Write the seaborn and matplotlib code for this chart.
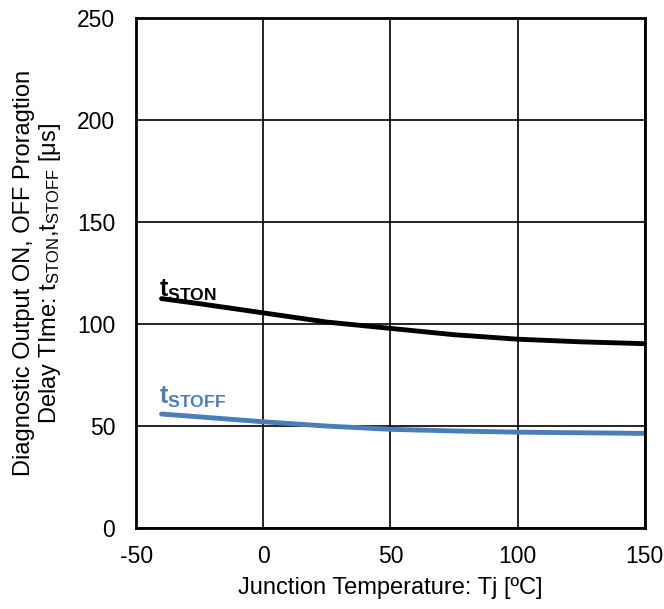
import matplotlib
matplotlib.use("Agg")
import matplotlib.pyplot as plt
import seaborn as sns
import pandas as pd

temps = [-40, -25, 0, 25, 50, 75, 100, 125, 150]
t_ston = [112.5, 110.0, 105.5, 101.0, 97.9, 94.8, 92.6, 91.3, 90.4]
t_stoff = [55.9, 54.5, 52.1, 50.0, 48.4, 47.6, 47.0, 46.7, 46.4]
xticks = [-50, 0, 50, 100, 150]
yticks = [0, 50, 100, 150, 200, 250]

sns.set_theme(style="white")
plt.rcParams['font.family'] = ['Liberation Sans', 'DejaVu Sans']
plt.rcParams['mathtext.fontset'] = 'custom'
plt.rcParams['mathtext.rm'] = 'Liberation Sans'
plt.rcParams['mathtext.bf'] = 'Liberation Sans:bold'
plt.rcParams['mathtext.it'] = 'Liberation Sans:italic'
plt.rcParams['axes.unicode_minus'] = False

df = pd.DataFrame({
    "Tj": temps * 2,
    "t": t_ston + t_stoff,
    "series": ["tSTON"] * len(temps) + ["tSTOFF"] * len(temps),
})

fig = plt.figure(figsize=(6.64, 6.09), dpi=100)
ax = fig.add_axes([0.205, 0.133, 0.766, 0.837])
sns.lineplot(data=df, x="Tj", y="t", hue="series",
             palette={"tSTON": "black", "tSTOFF": "#4a7ebb"},
             linewidth=3.5, legend=False, ax=ax, solid_capstyle="round")
ax.set_xlim(-50, 150)
ax.set_ylim(0, 250)
ax.set_xticks(xticks)
ax.set_yticks(yticks)
ax.grid(True, color="black", linewidth=1.2)
ax.set_axisbelow(True)
for s in ax.spines.values():
    s.set_color("black")
    s.set_linewidth(2)
ax.tick_params(axis="y", labelsize=16.5, colors="black", length=0, pad=15)
ax.tick_params(axis="x", labelsize=16.5, colors="black", length=0, pad=12)
ax.set_xlabel("Junction Temperature: Tj [ºC]", fontsize=17, color="black", labelpad=7)
ax.set_ylabel("Diagnostic Output ON, OFF Proragtion\nDelay TIme: $\\mathrm{t_{STON}}$,$\\mathrm{t_{STOFF}}$ [μs]",
              fontsize=17, color="black", labelpad=10, linespacing=1.1)

ax.text(-41, 113.5, r"$\mathbf{t}_{\mathbf{STON}}$", fontsize=18, color="black", va="baseline", ha="left")
ax.text(-41, 61, r"$\mathbf{t}_{\mathbf{STOFF}}$", fontsize=18, color="#4a7ebb", va="baseline", ha="left")

fig.savefig("out.png", dpi=100)
